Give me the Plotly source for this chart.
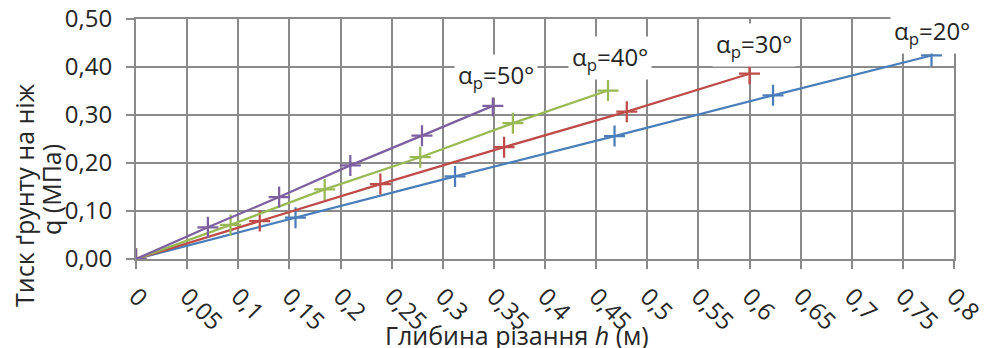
import plotly.graph_objects as go

# Data
h_20 = [0.0, 0.156, 0.312, 0.468, 0.623, 0.778]
q_20 = [0.0, 0.086, 0.172, 0.256, 0.341, 0.424]

h_30 = [0.0, 0.121, 0.239, 0.360, 0.480, 0.600]
q_30 = [0.0, 0.079, 0.156, 0.233, 0.307, 0.386]

h_40 = [0.0, 0.0925, 0.1845, 0.278, 0.3686, 0.4616]
q_40 = [0.0, 0.071, 0.145, 0.212, 0.283, 0.351]

h_50 = [0.0, 0.0703, 0.140, 0.2096, 0.2797, 0.349]
q_50 = [0.0, 0.066, 0.129, 0.195, 0.257, 0.319]

series_names = ["α<sub>p</sub>=20°", "α<sub>p</sub>=30°", "α<sub>p</sub>=40°", "α<sub>p</sub>=50°"]
series_colors = ["#4A7EBB", "#BE4B48", "#98B954", "#7D60A0"]
label_shifts = [(0, 23), (4, 29), (2, 33), (3, 30)]

x_tickvals = [0, 0.05, 0.1, 0.15, 0.2, 0.25, 0.3, 0.35, 0.4, 0.45, 0.5, 0.55, 0.6, 0.65, 0.7, 0.75, 0.8]
x_ticktext = ["0", "0,05", "0,1", "0,15", "0,2", "0,25", "0,3", "0,35", "0,4", "0,45", "0,5",
              "0,55", "0,6", "0,65", "0,7", "0,75", "0,8"]
y_tickvals = [0, 0.1, 0.2, 0.3, 0.4, 0.5]
y_ticktext = ["0,00", "0,10", "0,20", "0,30", "0,40", "0,50"]

x_title = "Глибина різання <i>h</i> (м)"
y_title_lines = ["Тиск ґрунту на ніж", "q (МПа)"]

FONT = "Open Sans"
TXT = "#262626"
GRID = "#8a8a8a"
FS_TICK = 24
FS_TITLE = 25
FS_LABEL = 24

# the page body adds an 8 px offset; plot area should sit at page x 136..954, y 19..259
OFF = 8

fig = go.Figure()
all_series = [(h_20, q_20), (h_30, q_30), (h_40, q_40), (h_50, q_50)]
for (hx, qy), name, col in zip(all_series, series_names, series_colors):
    fig.add_trace(go.Scatter(
        x=hx, y=qy, mode="lines+markers", name=name,
        line=dict(color=col, width=2.25),
        marker=dict(symbol="cross-thin", size=15, line=dict(color=col, width=2.25), color=col),
        showlegend=False,
    ))

annotations = []
for (hx, qy), name, (dx, dy) in zip(all_series, series_names, label_shifts):
    annotations.append(dict(
        x=hx[-1], y=qy[-1], xref="x", yref="y", text=name, showarrow=False,
        xshift=dx, yshift=dy, font=dict(family=FONT, size=FS_LABEL, color=TXT),
        bgcolor="white", borderpad=3, xanchor="center", yanchor="middle",
    ))

annotations.append(dict(
    x=(517 - 136) / 818, y=(259 - 335) / 240, xref="paper", yref="paper",
    text=x_title, showarrow=False, xanchor="center", yanchor="middle",
    font=dict(family=FONT, size=FS_TITLE, color=TXT),
))
for line, px, py in zip(y_title_lines, [24, 51], [195, 190]):
    annotations.append(dict(
        x=(px - 136) / 818, y=(259 - py) / 240, xref="paper", yref="paper",
        text=line, showarrow=False, xanchor="center", yanchor="middle", textangle=-90,
        font=dict(family=FONT, size=FS_TITLE, color=TXT),
    ))

fig.update_layout(
    width=987, height=348,
    margin=dict(l=136 - OFF, r=33 + OFF, t=19 - OFF, b=89 + OFF),
    paper_bgcolor="white", plot_bgcolor="white",
    font=dict(family=FONT, size=FS_TICK, color=TXT),
    annotations=annotations,
)
fig.update_xaxes(
    range=[0, 0.8], tickvals=x_tickvals, ticktext=x_ticktext, tickangle=45,
    showgrid=True, gridcolor=GRID, gridwidth=2,
    showline=True, linecolor=GRID, linewidth=2, mirror=True,
    ticks="outside", ticklen=8, tickwidth=2, tickcolor=GRID,
    zeroline=False, ticklabelstandoff=4, automargin=False, ticklabeloverflow="allow",
    tickfont=dict(family=FONT, size=FS_TICK, color=TXT),
)
fig.update_yaxes(
    range=[0, 0.5], tickvals=y_tickvals, ticktext=y_ticktext,
    showgrid=True, gridcolor=GRID, gridwidth=2,
    showline=True, linecolor=GRID, linewidth=2, mirror=True,
    ticks="outside", ticklen=8, tickwidth=2, tickcolor=GRID,
    zeroline=False, ticklabelstandoff=9, automargin=False, ticklabeloverflow="allow",
    tickfont=dict(family=FONT, size=FS_TICK, color=TXT),
)

fig.write_html("out.html")
